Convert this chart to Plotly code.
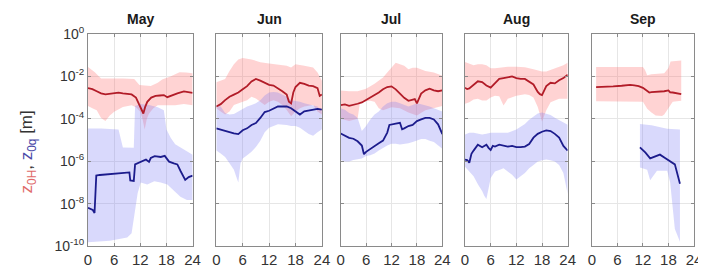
import plotly.graph_objects as go

# ---- data: [hour, log10(z) ] pairs ----
MONTHS = ["May", "Jun", "Jul", "Aug", "Sep"]

MAY_H_MEAN = [[0,-2.55],[1,-2.6],[2,-2.7],[3,-2.8],[4,-2.85],[5,-2.82],[6,-2.78],[7,-2.77],[8,-2.8],[9,-2.83],[10,-2.85],[11,-3.0],[11.7,-3.3],[12.3,-3.6],[12.7,-3.75],[13.1,-3.45],[13.6,-3.2],[14.5,-3.0],[15.5,-2.92],[16.5,-2.9],[17.4,-2.88],[18.2,-2.98],[19.3,-2.88],[20.5,-2.8],[22,-2.71],[23,-2.74],[24,-2.78]]
MAY_H_HI = [[0,-1.56],[1,-1.7],[1.5,-1.79],[3,-2.1],[6,-2.08],[8,-2.1],[10.6,-2.12],[11.8,-2.4],[13,-2.43],[14.4,-2.45],[16,-2.3],[17,-2.15],[18.9,-2.0],[21,-1.8],[22.5,-1.82],[24,-1.85]]
MAY_H_LO = [[0,-3.4],[1,-3.5],[2,-3.6],[3,-3.96],[4,-4.1],[5,-3.85],[6,-3.67],[8,-3.44],[10,-3.36],[11,-3.45],[12,-3.67],[12.5,-4.0],[13,-4.5],[13.5,-4.0],[14,-3.75],[15,-3.5],[16,-3.36],[18,-3.36],[20,-3.36],[22,-3.3],[24,-3.36]]
MAY_Q_MEAN = [[0,-8.2],[1.1,-8.3],[1.5,-8.44],[1.9,-6.68],[2.7,-6.65],[6.1,-6.6],[9.5,-6.53],[9.7,-6.91],[10.5,-6.93],[10.8,-6.15],[11.7,-6.08],[13.3,-5.92],[14,-6.03],[14.4,-5.85],[15.3,-5.76],[16.7,-5.8],[17.6,-5.75],[18.6,-6.02],[19.7,-6.1],[20.5,-6.15],[21.2,-6.45],[22.3,-6.88],[23.1,-6.75],[24,-6.68]]
MAY_Q_HI = [[0,-4.46],[3,-4.46],[7,-4.5],[7.5,-5.0],[8,-5.35],[10.5,-5.37],[10.8,-3.4],[12,-3.3],[14,-3.35],[16,-3.45],[17.4,-3.6],[18,-4.5],[19,-4.9],[20,-5.2],[22,-5.45],[24,-5.7]]
MAY_Q_LO = [[0,-9.82],[5,-9.75],[9,-9.6],[10,-9.4],[10.6,-8.7],[11.4,-7.5],[12.1,-7.0],[13.6,-7.1],[15.2,-6.95],[16.7,-7.0],[18.2,-7.1],[19.7,-7.37],[21.2,-7.68],[22.7,-7.83],[24,-7.83]]

JUN_H_MEAN = [[0,-3.42],[1,-3.31],[2,-3.12],[3,-2.96],[4,-2.86],[5,-2.76],[6,-2.61],[7,-2.46],[8,-2.24],[9,-2.12],[10,-2.2],[11,-2.3],[12,-2.4],[13,-2.43],[14,-2.55],[15,-2.7],[16,-2.86],[16.5,-3.19],[17,-3.27],[17.5,-2.76],[18,-2.5],[19,-2.3],[20,-2.35],[21,-2.43],[22,-2.46],[23,-2.55],[23.5,-2.92],[24,-2.86]]
JUN_H_HI = [[0,-2.28],[1,-2.2],[2,-2.12],[3,-1.74],[4,-1.43],[5,-1.2],[6,-1.13],[8,-1.2],[10,-1.33],[12,-1.39],[14,-1.43],[16,-1.5],[17,-1.58],[18,-1.43],[20,-1.5],[22,-1.58],[23,-1.82],[24,-2.2]]
JUN_H_LO = [[0,-3.5],[1,-3.65],[2,-3.8],[3,-3.65],[4,-3.35],[6,-3.2],[7,-3.12],[8,-2.96],[9,-3.04],[10,-3.2],[11,-3.35],[12,-3.2],[13,-3.12],[14,-3.2],[15,-3.35],[16,-3.58],[17,-3.88],[18,-3.65],[19,-3.5],[20,-3.42],[22,-3.35],[23,-3.65],[24,-3.8]]
JUN_Q_MEAN = [[0,-4.45],[1,-4.5],[2,-4.57],[3,-4.63],[4,-4.69],[5,-4.72],[6,-4.54],[7,-4.45],[8,-4.29],[9,-4.2],[10,-3.96],[11,-3.68],[12,-3.62],[13,-3.53],[14,-3.42],[15,-3.42],[16,-3.42],[17,-3.5],[18,-3.65],[19,-3.8],[20,-3.65],[21,-3.62],[22,-3.57],[23,-3.53],[24,-3.57]]
JUN_Q_HI = [[0,-3.35],[1,-3.42],[2,-3.73],[3,-3.8],[4,-3.77],[5,-3.65],[6,-3.57],[7,-3.42],[8,-3.35],[9,-3.27],[10,-3.12],[11,-2.9],[12,-2.76],[13,-2.73],[14,-2.76],[15,-2.86],[16,-2.96],[17,-3.12],[18,-3.16],[19,-3.19],[20,-3.27],[21,-3.31],[22,-3.35],[23,-3.42],[24,-3.65]]
JUN_Q_LO = [[0,-5.49],[1,-5.64],[2,-5.8],[3,-6.1],[4,-6.4],[4.5,-6.71],[5,-7.0],[5.5,-6.1],[6,-5.87],[7,-5.72],[8,-5.56],[9,-5.33],[10,-5.03],[11,-4.64],[12,-4.42],[13,-4.34],[14,-4.26],[15,-4.26],[16,-4.29],[17,-4.34],[18,-4.34],[19,-4.42],[20,-4.57],[21,-4.72],[22,-4.8],[23,-4.64],[24,-4.49]]

JUL_H_MEAN = [[0,-3.35],[1,-3.32],[2,-3.39],[3,-3.35],[4,-3.29],[5,-3.23],[6,-3.12],[7,-3.0],[8,-2.89],[9,-2.76],[10,-2.61],[11,-2.5],[12,-2.47],[13,-2.61],[14,-2.81],[15,-3.01],[16,-3.15],[17,-3.12],[17.5,-3.07],[18,-3.27],[18.5,-3.01],[19,-2.81],[20,-2.66],[21,-2.58],[22,-2.66],[23,-2.7],[24,-2.66]]
JUL_H_HI = [[0,-2.66],[2,-2.7],[4,-2.7],[6,-2.58],[8,-2.35],[10,-2.05],[11,-1.82],[12,-1.59],[13,-1.36],[14,-1.43],[15,-1.5],[16,-1.66],[17,-1.59],[18,-1.59],[19,-1.66],[20,-1.74],[22,-1.82],[24,-1.97]]
JUL_H_LO = [[0,-4.0],[2,-4.1],[4,-4.0],[4.5,-3.3],[5,-3.2],[7,-3.15],[8,-3.2],[9,-3.5],[10,-3.6],[12,-3.45],[14,-3.5],[16,-3.7],[18,-3.85],[20,-3.6],[22,-3.5],[24,-3.4]]
JUL_Q_MEAN = [[0,-4.69],[1,-4.81],[2,-4.9],[3,-4.94],[4,-5.06],[5,-5.26],[5.5,-5.67],[6,-5.56],[7,-5.41],[8,-5.26],[9,-5.15],[10,-5.03],[11,-4.65],[11.5,-4.29],[12,-4.26],[13,-4.23],[14,-4.19],[14.5,-4.49],[15,-4.45],[16,-4.34],[17,-4.29],[18,-4.11],[19,-4.03],[20,-3.96],[21,-3.96],[22,-4.03],[23,-4.26],[24,-4.72]]
JUL_Q_HI = [[0,-3.5],[1,-3.57],[2,-3.73],[3,-3.8],[4,-3.96],[4.5,-4.26],[5,-4.57],[6,-4.34],[7,-4.03],[8,-3.8],[9,-3.65],[10,-3.42],[11,-3.27],[12,-3.19],[13,-3.19],[14,-3.27],[15,-3.35],[16,-3.42],[17,-3.35],[18,-3.27],[19,-3.31],[20,-3.35],[21,-3.42],[22,-3.5],[23,-3.57],[24,-3.65]]
JUL_Q_LO = [[0,-5.94],[1,-6.02],[2,-6.02],[3,-5.94],[4,-5.91],[5,-5.87],[6,-5.76],[7,-5.72],[8,-5.64],[9,-5.49],[10,-5.36],[11,-5.26],[12,-5.18],[13,-5.18],[14,-5.21],[15,-5.18],[16,-5.15],[17,-5.1],[18,-5.03],[19,-4.95],[20,-4.95],[21,-5.03],[22,-5.1],[23,-5.26],[24,-5.41]]

AUG_H_MEAN = [[0,-2.53],[0.5,-2.6],[1,-2.57],[2,-2.38],[3,-2.23],[4,-2.27],[5,-2.43],[6,-2.53],[7,-2.33],[8,-2.12],[9,-2.08],[10,-2.05],[11,-2.0],[12,-2.08],[13,-2.12],[14,-2.12],[15,-2.23],[16,-2.38],[17,-2.73],[17.5,-2.84],[18,-2.88],[18.5,-2.68],[19,-2.46],[20,-2.3],[21,-2.33],[22,-2.18],[23,-2.08],[24,-1.92]]
AUG_H_HI = [[0,-1.32],[1,-1.39],[2,-1.47],[3,-1.43],[4,-1.43],[5,-1.47],[6,-1.62],[7,-1.62],[8,-1.59],[10,-1.54],[12,-1.54],[14,-1.57],[16,-1.66],[17,-1.72],[18,-1.77],[19,-1.77],[20,-1.7],[22,-1.54],[23,-1.47],[24,-1.36]]
AUG_H_LO = [[0,-3.29],[1,-3.22],[2,-3.09],[3,-3.06],[4,-3.14],[5,-3.14],[6,-2.99],[7,-2.91],[8,-2.94],[9,-3.37],[9.5,-3.22],[10,-3.06],[12,-2.91],[14,-2.84],[15,-2.88],[16,-2.99],[17,-3.44],[18,-4.13],[19,-3.6],[20,-3.22],[22,-3.06],[24,-3.06]]
AUG_Q_MEAN = [[0,-5.92],[0.5,-5.95],[1,-6.07],[1.5,-5.65],[2,-5.5],[3,-5.22],[4,-5.34],[5,-5.22],[5.5,-5.37],[6,-5.47],[6.5,-5.28],[7,-5.31],[8,-5.22],[9,-5.28],[10,-5.31],[11,-5.28],[12,-5.34],[13,-5.34],[14,-5.31],[15,-5.19],[15.5,-5.01],[16,-4.89],[17,-4.71],[18,-4.61],[19,-4.55],[20,-4.58],[21,-4.71],[22,-4.89],[23,-5.28],[24,-5.5]]
AUG_Q_HI = [[0,-4.74],[1,-4.66],[2,-4.66],[3,-4.71],[4,-4.74],[5,-4.71],[6,-4.66],[8,-4.66],[10,-4.66],[12,-4.5],[14,-4.25],[15,-4.05],[16,-3.9],[17,-3.75],[18,-3.7],[19,-3.75],[20,-3.82],[21,-3.95],[22,-4.05],[23,-4.16],[24,-4.28]]
AUG_Q_LO = [[0,-6.26],[1,-6.48],[2,-6.71],[3,-7.09],[4,-7.4],[4.5,-7.63],[5,-7.78],[5.5,-7.33],[6,-6.79],[7,-6.48],[8,-6.41],[9,-6.33],[10,-6.48],[11,-6.64],[12,-6.86],[13,-6.71],[14,-6.56],[15,-6.33],[16,-6.18],[17,-6.02],[18,-5.95],[19,-5.92],[20,-5.95],[21,-6.02],[22,-6.18],[23,-6.56],[24,-7.55]]

SEP_H_MEAN = [[1,-2.51],[3,-2.5],[5,-2.47],[7,-2.44],[9,-2.4],[10,-2.42],[11,-2.46],[12,-2.54],[12.5,-2.6],[13,-2.7],[13.5,-2.76],[14,-2.74],[15,-2.73],[16,-2.72],[17,-2.7],[18,-2.66],[18.4,-2.75],[19,-2.76],[20,-2.8],[21,-2.84]]
SEP_H_HI = [[1,-1.56],[12,-1.56],[12.5,-1.7],[13,-1.94],[14,-1.9],[16,-1.88],[17,-1.85],[18,-1.6],[18.5,-1.3],[21,-1.25]]
SEP_H_LO = [[1,-3.17],[12,-3.2],[13,-3.53],[14,-3.7],[15,-3.85],[16.5,-3.87],[17,-3.8],[18,-3.5],[19,-3.2],[21,-3.15]]
SEP_Q_MEAN = [[11.3,-5.35],[12.6,-5.6],[13.7,-5.87],[14.9,-5.76],[16,-5.69],[17.2,-5.85],[18.4,-6.0],[19.5,-6.15],[20.7,-7.06]]
SEP_Q_HI = [[11.3,-4.24],[14,-4.3],[17.7,-4.47],[20.7,-4.5]]
SEP_Q_LO = [[11.3,-6.3],[13,-6.4],[13.7,-6.9],[15.3,-6.45],[17.7,-6.45],[18.4,-7.0],[19.5,-9.2],[20.7,-9.8]]

PANELS = [
    (MAY_H_MEAN, MAY_H_HI, MAY_H_LO, MAY_Q_MEAN, MAY_Q_HI, MAY_Q_LO),
    (JUN_H_MEAN, JUN_H_HI, JUN_H_LO, JUN_Q_MEAN, JUN_Q_HI, JUN_Q_LO),
    (JUL_H_MEAN, JUL_H_HI, JUL_H_LO, JUL_Q_MEAN, JUL_Q_HI, JUL_Q_LO),
    (AUG_H_MEAN, AUG_H_HI, AUG_H_LO, AUG_Q_MEAN, AUG_Q_HI, AUG_Q_LO),
    (SEP_H_MEAN, SEP_H_HI, SEP_H_LO, SEP_Q_MEAN, SEP_Q_HI, SEP_Q_LO),
]

X_TICKS = [0, 6, 12, 18, 24]
Y_EXPS = [0, -2, -4, -6, -8, -10]

# ---- styling ----
RED_LINE = "rgb(178,28,40)"
RED_BAND = "rgba(255,110,110,0.30)"
BLUE_LINE = "rgb(28,28,140)"
BLUE_BAND = "rgba(120,120,245,0.28)"
GRID = "#e6e6e6"
AXIS = "#8a8a8a"
FONT = "Liberation Sans, Arial, sans-serif"

W, H = 706, 272
ML, MR, MT, MB = 80, 12, 26, 28
PW = W - ML - MR
PH = H - MT - MB
STARTS = [80, 210, 336, 462, 590.5]
ENDS = [186, 317, 439, 566, 694]


def xs(pairs):
    return [p[0] for p in pairs]


def ys(pairs):
    return [10 ** p[1] for p in pairs]


fig = go.Figure()

for i, (hm, hh, hl, qm, qh, ql) in enumerate(PANELS):
    xa = "x" if i == 0 else f"x{i+1}"
    ya = "y" if i == 0 else f"y{i+1}"
    fig.add_trace(go.Scatter(x=xs(hh) + xs(hl)[::-1], y=ys(hh) + ys(hl)[::-1],
                             fill="toself", fillcolor=RED_BAND, line=dict(width=0),
                             mode="lines", hoverinfo="skip", showlegend=False, xaxis=xa, yaxis=ya))
    fig.add_trace(go.Scatter(x=xs(qh) + xs(ql)[::-1], y=ys(qh) + ys(ql)[::-1],
                             fill="toself", fillcolor=BLUE_BAND, line=dict(width=0),
                             mode="lines", hoverinfo="skip", showlegend=False, xaxis=xa, yaxis=ya))
    fig.add_trace(go.Scatter(x=xs(hm), y=ys(hm), mode="lines",
                             line=dict(color=RED_LINE, width=1.8), showlegend=False, xaxis=xa, yaxis=ya))
    fig.add_trace(go.Scatter(x=xs(qm), y=ys(qm), mode="lines",
                             line=dict(color=BLUE_LINE, width=1.8), showlegend=False, xaxis=xa, yaxis=ya))

layout = dict(
    width=W, height=H,
    margin=dict(l=ML, r=MR, t=MT, b=MB),
    paper_bgcolor="white", plot_bgcolor="white",
    font=dict(family=FONT, size=13, color="#333333"),
    showlegend=False,
)

annotations = []
for i, m in enumerate(MONTHS):
    d0 = (STARTS[i] - ML) / PW
    d1 = (ENDS[i] - ML) / PW
    xkey = "xaxis" if i == 0 else f"xaxis{i+1}"
    ykey = "yaxis" if i == 0 else f"yaxis{i+1}"
    layout[xkey] = dict(
        domain=[d0, d1], anchor="y" if i == 0 else f"y{i+1}",
        range=[0, 24], tickvals=X_TICKS, ticktext=[str(t) for t in X_TICKS],
        showgrid=True, gridcolor=GRID, gridwidth=1,
        showline=True, linecolor=AXIS, linewidth=1, mirror="ticks",
        ticks="inside", ticklen=3, tickcolor=AXIS,
        zeroline=False, tickfont=dict(size=15, color="#333333"),
    )
    layout[ykey] = dict(
        domain=[0, 1], anchor="x" if i == 0 else f"x{i+1}",
        type="log", range=[-10, 0],
        tickvals=[10 ** e for e in Y_EXPS],
        ticktext=[f"10<sup>{e}</sup>" for e in Y_EXPS],
        showticklabels=(i == 0),
        showgrid=True, gridcolor=GRID, gridwidth=1,
        showline=True, linecolor=AXIS, linewidth=1, mirror="ticks",
        ticks="inside", ticklen=3, tickcolor=AXIS,
        zeroline=False, tickfont=dict(size=14, color="#333333"),
    )
    annotations.append(dict(
        text=f"<b>{m}</b>", x=(d0 + d1) / 2, y=(H - MB - 11) / PH,
        xref="paper", yref="paper", showarrow=False, xanchor="center", yanchor="middle",
        font=dict(size=14, color="#1a1a1a", family=FONT),
    ))

annotations.append(dict(
    text='<span style="color:#e06a6a">z<sub>0H</sub></span><span style="color:#333333">, </span>'
         '<span style="color:#4a4aa8">z<sub>0q</sub></span><span style="color:#333333"> [m]</span>',
    x=(19 - ML) / PW, y=(H - MB - 147) / PH, xref="paper", yref="paper",
    textangle=-90, showarrow=False, xanchor="center", yanchor="middle",
    font=dict(size=17, family=FONT),
))
layout["annotations"] = annotations

fig.update_layout(**layout)
fig.write_html("out.html")
